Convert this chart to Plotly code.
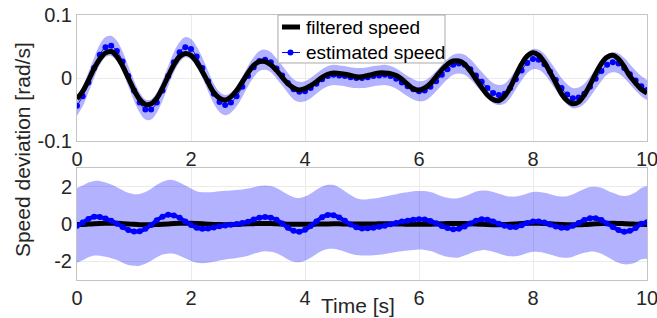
import plotly.graph_objects as go

# ---------------- data ----------------
time_s = [round(i * 0.1, 1) for i in range(101)]

filtered_speed = [
    -0.033, -0.021, -0.004, 0.015, 0.030, 0.040, 0.042, 0.034, 0.019, 0.000,
    -0.019, -0.034, -0.042, -0.041, -0.032, -0.016, 0.003, 0.021, 0.034, 0.039,
    0.036, 0.025, 0.010, -0.007, -0.023, -0.032, -0.035, -0.030, -0.020, -0.006,
    0.008, 0.020, 0.026, 0.026, 0.021, 0.012, 0.001, -0.009, -0.016, -0.019,
    -0.017, -0.012, -0.006, 0.001, 0.006, 0.008, 0.007, 0.006, 0.004, 0.002,
    0.002, 0.004, 0.006, 0.008, 0.008, 0.007, 0.004, -0.002, -0.010, -0.017,
    -0.019, -0.016, -0.009, 0.002, 0.013, 0.022, 0.027, 0.027, 0.022, 0.011,
    -0.002, -0.015, -0.027, -0.034, -0.036, -0.029, -0.015, 0.004, 0.022, 0.035,
    0.040, 0.036, 0.025, 0.009, -0.008, -0.025, -0.036, -0.041, -0.038, -0.027,
    -0.011, 0.007, 0.023, 0.033, 0.036, 0.030, 0.018, 0.003, -0.008, -0.018,
    -0.024,
]

estimated_speed_top = [
    -0.044, -0.029, -0.007, 0.016, 0.037, 0.049, 0.051, 0.043, 0.026, 0.003,
    -0.020, -0.039, -0.050, -0.050, -0.039, -0.020, 0.003, 0.025, 0.041, 0.049,
    0.046, 0.034, 0.016, -0.005, -0.025, -0.038, -0.043, -0.039, -0.029, -0.014,
    0.003, 0.017, 0.027, 0.029, 0.025, 0.015, 0.004, -0.008, -0.018, -0.022,
    -0.021, -0.016, -0.009, -0.002, 0.003, 0.005, 0.004, 0.003, 0.001, 0.000,
    0.000, 0.001, 0.003, 0.004, 0.005, 0.003, -0.001, -0.007, -0.013, -0.018,
    -0.021, -0.020, -0.014, -0.005, 0.005, 0.014, 0.021, 0.023, 0.021, 0.014,
    0.004, -0.006, -0.016, -0.024, -0.027, -0.025, -0.016, -0.002, 0.012, 0.024,
    0.030, 0.029, 0.022, 0.010, -0.003, -0.016, -0.026, -0.032, -0.031, -0.025,
    -0.014, -0.001, 0.011, 0.021, 0.025, 0.023, 0.016, 0.006, -0.004, -0.013,
    -0.019,
]
top_band_half = 0.016

estimated_speed_bottom = [
    -0.10, 0.08, 0.27, 0.39, 0.38, 0.29, 0.17, 0.02, -0.16, -0.32,
    -0.40, -0.39, -0.26, -0.05, 0.20, 0.39, 0.49, 0.46, 0.33, 0.14,
    -0.05, -0.20, -0.25, -0.24, -0.19, -0.12, -0.08, -0.04, 0.00, 0.05,
    0.12, 0.24, 0.33, 0.37, 0.34, 0.23, 0.03, -0.20, -0.36, -0.41,
    -0.31, -0.11, 0.14, 0.36, 0.48, 0.47, 0.35, 0.17, -0.03, -0.18,
    -0.24, -0.23, -0.20, -0.15, -0.09, -0.01, 0.06, 0.13, 0.18, 0.23,
    0.25, 0.24, 0.16, 0.04, -0.11, -0.22, -0.28, -0.25, -0.13, 0.03,
    0.18, 0.25, 0.23, 0.14, 0.02, -0.09, -0.16, -0.16, -0.07, 0.05,
    0.14, 0.14, 0.08, -0.03, -0.14, -0.20, -0.20, -0.10, 0.06, 0.21,
    0.31, 0.31, 0.21, 0.03, -0.16, -0.32, -0.41, -0.36, -0.22, 0.02,
    0.10,
]

bottom_band_mid = [
    -0.08, 0.06, 0.22, 0.31, 0.30, 0.23, 0.14, 0.02, -0.13, -0.26,
    -0.32, -0.31, -0.21, -0.04, 0.16, 0.31, 0.39, 0.37, 0.26, 0.11,
    -0.04, -0.16, -0.20, -0.19, -0.15, -0.10, -0.06, -0.03, 0.00, 0.04,
    0.10, 0.19, 0.26, 0.30, 0.27, 0.18, 0.02, -0.16, -0.29, -0.33,
    -0.25, -0.09, 0.11, 0.29, 0.38, 0.38, 0.28, 0.14, -0.02, -0.14,
    -0.19, -0.18, -0.16, -0.12, -0.07, -0.01, 0.05, 0.10, 0.14, 0.18,
    0.20, 0.19, 0.13, 0.03, -0.09, -0.18, -0.22, -0.20, -0.10, 0.02,
    0.14, 0.20, 0.18, 0.11, 0.02, -0.07, -0.13, -0.13, -0.06, 0.04,
    0.11, 0.11, 0.06, -0.02, -0.11, -0.16, -0.16, -0.08, 0.05, 0.17,
    0.25, 0.25, 0.17, 0.02, -0.13, -0.26, -0.33, -0.29, -0.18, 0.02,
    0.08,
]

bottom_band_half = [
    2.00, 2.00, 2.00, 2.00, 2.00, 1.99,
    1.97, 1.95, 1.94, 1.93, 1.92,
    1.92, 1.92, 1.93, 1.94, 1.95,
    1.97, 1.97, 1.96, 1.95, 1.94,
    1.92, 1.90, 1.89, 1.87, 1.85,
    1.84, 1.83, 1.82, 1.81, 1.80,
    1.78, 1.77, 1.76, 1.76, 1.75,
    1.74, 1.74, 1.73, 1.72, 1.72,
    1.72, 1.72, 1.72, 1.72, 1.71,
    1.67, 1.62, 1.57, 1.52, 1.50,
    1.51, 1.52, 1.53, 1.54, 1.55,
    1.55, 1.56, 1.56, 1.57, 1.57,
    1.58, 1.58, 1.58, 1.58, 1.58,
    1.58, 1.59, 1.59, 1.59, 1.60,
    1.60, 1.60, 1.60, 1.60, 1.60,
    1.60, 1.60, 1.60, 1.60, 1.60,
    1.61, 1.61, 1.62, 1.62, 1.63,
    1.65, 1.67, 1.69, 1.71, 1.73,
    1.75, 1.77, 1.78, 1.80, 1.82,
    1.83, 1.85, 1.88, 1.91, 1.95,
]

x_ticks = [0, 2, 4, 6, 8, 10]
top_y_ticks = [-0.1, 0, 0.1]
top_y_ticktext = ["-0.1", "0", "0.1"]
bottom_y_ticks = [-2, 0, 2]
bottom_y_ticktext = ["-2", "0", "2"]
legend_labels = ["filtered speed", "estimated speed"]

# ---------------- styling ----------------
FONT = "Liberation Sans, Arial, Helvetica, sans-serif"
TXT = "#262626"
BAND = "rgba(0,0,255,0.30)"
BLUE = "#0000ff"

top_upper = [v + top_band_half for v in estimated_speed_top]
top_lower = [v - top_band_half for v in estimated_speed_top]
bot_upper = [m + h for m, h in zip(bottom_band_mid, bottom_band_half)]
bot_lower = [m - h for m, h in zip(bottom_band_mid, bottom_band_half)]

fig = go.Figure()

# ---- top panel ----
fig.add_trace(go.Scatter(x=time_s, y=top_lower, mode="lines", line=dict(width=0, shape="spline"),
                         showlegend=False, hoverinfo="skip", xaxis="x", yaxis="y"))
fig.add_trace(go.Scatter(x=time_s, y=top_upper, mode="lines", line=dict(width=0, shape="spline"),
                         fill="tonexty", fillcolor=BAND, showlegend=False, hoverinfo="skip",
                         xaxis="x", yaxis="y"))
fig.add_trace(go.Scatter(x=time_s, y=estimated_speed_top, mode="lines+markers",
                         name=legend_labels[1], showlegend=False,
                         line=dict(color=BLUE, width=1, shape="spline"),
                         marker=dict(color=BLUE, size=6), xaxis="x", yaxis="y"))
fig.add_trace(go.Scatter(x=time_s, y=filtered_speed, mode="lines", name=legend_labels[0],
                         showlegend=False, line=dict(color="black", width=5, shape="spline"),
                         xaxis="x", yaxis="y"))

# ---- bottom panel ----
fig.add_trace(go.Scatter(x=time_s, y=bot_lower, mode="lines", line=dict(width=0, shape="spline"),
                         showlegend=False, hoverinfo="skip", xaxis="x2", yaxis="y2"))
fig.add_trace(go.Scatter(x=time_s, y=bot_upper, mode="lines", line=dict(width=0, shape="spline"),
                         fill="tonexty", fillcolor=BAND, showlegend=False, hoverinfo="skip",
                         xaxis="x2", yaxis="y2"))
fig.add_trace(go.Scatter(x=time_s, y=filtered_speed, mode="lines", showlegend=False,
                         name=legend_labels[0],
                         line=dict(color="black", width=5, shape="spline"),
                         xaxis="x2", yaxis="y2"))
fig.add_trace(go.Scatter(x=time_s, y=estimated_speed_bottom, mode="lines+markers",
                         showlegend=False, name=legend_labels[1],
                         line=dict(color=BLUE, width=4, shape="spline"),
                         marker=dict(color=BLUE, size=6), xaxis="x2", yaxis="y2"))

axis_common = dict(
    showgrid=True, gridcolor="#ebebeb", gridwidth=1,
    showline=True, mirror=True, linecolor="#c4c4c4", linewidth=1,
    zeroline=False, ticks="", tickfont=dict(family=FONT, size=20, color=TXT),
    ticklabeloverflow="allow", automargin=False,
)

# ---- legend box (drawn in paper coordinates, MATLAB-style compact legend) ----
legend_shapes = [
    dict(type="rect", xref="paper", yref="paper", x0=0.3526, x1=0.6456, y0=0.8189, y1=1.0,
         fillcolor="white", line=dict(color="#a8a8a8", width=1), layer="above"),
    dict(type="line", xref="paper", yref="paper", x0=0.3596, x1=0.3912, y0=0.9547, y1=0.9547,
         line=dict(color="black", width=5), layer="above"),
    dict(type="line", xref="paper", yref="paper", x0=0.3596, x1=0.3912, y0=0.8585, y1=0.8585,
         line=dict(color=BLUE, width=1), layer="above"),
    dict(type="circle", xref="paper", yref="paper", x0=0.3693, x1=0.3798, y0=0.8472, y1=0.8698,
         fillcolor=BLUE, line=dict(color=BLUE, width=0), layer="above"),
]

fig.update_layout(
    width=657, height=318,
    margin=dict(l=77, r=10, t=15, b=38),
    paper_bgcolor="white", plot_bgcolor="white",
    font=dict(family=FONT, color=TXT),
    xaxis=dict(domain=[0, 1], anchor="y", range=[0, 10], tickvals=x_ticks, **axis_common),
    yaxis=dict(domain=[0.5245, 1], anchor="x", range=[-0.1, 0.1], tickvals=top_y_ticks,
               ticktext=top_y_ticktext, **axis_common),
    xaxis2=dict(domain=[0, 1], anchor="y2", range=[0, 10], tickvals=x_ticks, **axis_common),
    yaxis2=dict(domain=[0, 0.4226], anchor="x2", range=[-3, 3], tickvals=bottom_y_ticks,
                ticktext=bottom_y_ticktext, **axis_common),
    showlegend=False,
    shapes=legend_shapes,
    annotations=[
        dict(text=legend_labels[0], xref="paper", yref="paper", x=0.398, y=0.951,
             xanchor="left", yanchor="middle", showarrow=False,
             font=dict(family=FONT, size=19, color="black")),
        dict(text=legend_labels[1], xref="paper", yref="paper", x=0.398, y=0.860,
             xanchor="left", yanchor="middle", showarrow=False,
             font=dict(family=FONT, size=19, color="black")),
        dict(text="Speed deviation [rad/s]", xref="paper", yref="paper",
             x=-0.0965, y=0.494, xanchor="center", yanchor="middle", textangle=-90,
             showarrow=False, font=dict(family=FONT, size=21, color=TXT)),
        dict(text="Time [s]", xref="paper", yref="paper",
             x=0.493, y=-0.098, xanchor="center", yanchor="middle",
             showarrow=False, font=dict(family=FONT, size=21, color=TXT)),
    ],
)

fig.write_html(
    "out.html",
    config={"displayModeBar": False},
    post_script="document.body.style.margin='0';document.body.style.padding='0';"
                "window.dispatchEvent(new Event('resize'));",
)
